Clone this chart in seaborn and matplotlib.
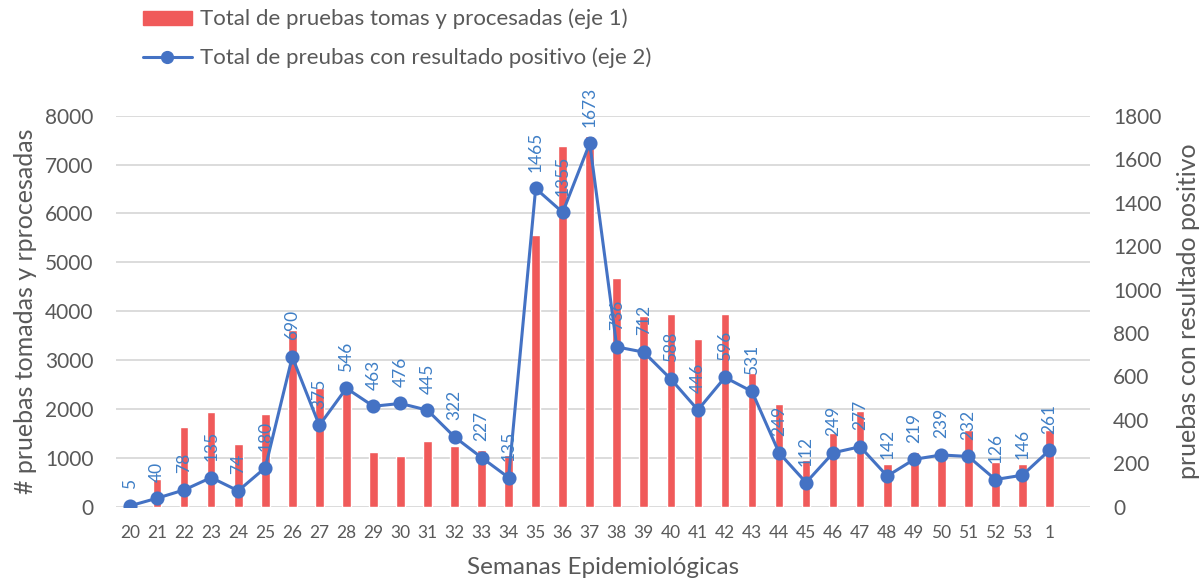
import numpy as np
import pandas as pd
import seaborn as sns
import matplotlib.pyplot as plt
from matplotlib.lines import Line2D
from matplotlib.patches import Patch

semanas = ['20', '21', '22', '23', '24', '25', '26', '27', '28', '29', '30', '31',
           '32', '33', '34', '35', '36', '37', '38', '39', '40', '41', '42', '43',
           '44', '45', '46', '47', '48', '49', '50', '51', '52', '53', '1']
procesadas = [30, 570, 1630, 1940, 1290, 1890, 3620, 2430, 2400, 1130, 1040, 1350,
              1250, 1170, 1060, 5560, 7370, 7590, 4690, 3900, 3940, 3430, 3950, 2730,
              2110, 960, 1510, 1960, 870, 1130, 1050, 1580, 920, 880, 1580]
positivos = [5, 40, 78, 135, 74, 180, 690, 375, 546, 463, 476, 445,
             322, 227, 135, 1465, 1355, 1673, 736, 712, 588, 446, 596, 531,
             249, 112, 249, 277, 142, 219, 239, 232, 126, 146, 261]

df = pd.DataFrame({'semana': semanas, 'procesadas': procesadas, 'positivos': positivos})

sns.set_style('white')
plt.rcParams['font.family'] = ['Lato', 'DejaVu Sans']

gris = '#595959'
rojo = '#F05A5A'
azul = '#4472C4'
azul_txt = '#3F7FC6'

fig = plt.figure(figsize=(12.01, 5.84), dpi=100)
ax = fig.add_axes([0.097, 0.132, 0.8106, 0.670])

sns.barplot(data=df, x='semana', y='procesadas', order=semanas, color=rojo,
            width=0.32, saturation=1, ax=ax, zorder=2)
ax.set_ylim(0, 8000)
ax.set_yticks(range(0, 8001, 1000))
ax.grid(axis='y', color='#D9D9D9', linewidth=1.3, zorder=0)
ax.set_axisbelow(True)
for s in ax.spines.values():
    s.set_visible(False)
ax.tick_params(axis='both', length=0, colors=gris)
ax.tick_params(axis='y', labelsize=15, pad=16.5)
ax.tick_params(axis='x', labelsize=12.5, pad=13)
ax.set_xlabel('Semanas Epidemiológicas', fontsize=17.5, color=gris)
ax.xaxis.set_label_coords(0.5, -0.128)
ax.set_ylabel('# pruebas tomadas y rprocesadas', fontsize=18, color=gris)
ax.yaxis.set_label_coords(-0.082, 0.5)

ax2 = ax.twinx()
sns.pointplot(data=df, x='semana', y='positivos', order=semanas, color=azul,
              markersize=8.5, linewidth=2.2, ax=ax2, zorder=3)
ax2.set_ylim(0, 1800)
ax2.set_yticks(range(0, 1801, 200))
for s in ax2.spines.values():
    s.set_visible(False)
ax2.tick_params(axis='y', length=0, colors=gris, labelsize=15, pad=16.5)
ax2.set_ylabel('pruebas con resultado positivo', fontsize=18, color=gris)
ax2.yaxis.set_label_coords(1.089, 0.5)
ax2.set_xlabel('')
ax2.grid(False)

for i, v in enumerate(positivos):
    ax2.annotate(str(v), (i, v), xytext=(0, 12), textcoords='offset points',
                 rotation=90, ha='center', va='bottom', fontsize=12.5, color=azul_txt)

ax.set_xlim(-0.5, len(semanas) + 0.5)
ax2.set_xlim(-0.5, len(semanas) + 0.5)

handles = [Patch(color=rojo),
           Line2D([], [], color=azul, linewidth=2.2, marker='o', markersize=8.5)]
labels = ['Total de pruebas tomas y procesadas (eje 1)',
          'Total de preubas con resultado positivo (eje 2)']
fig.legend(handles, labels, loc='upper left', bbox_to_anchor=(0.1024, 1.019),
           frameon=False, fontsize=16, labelcolor=gris, handlelength=2.2,
           handleheight=0.6, handletextpad=0.36, labelspacing=0.82)

fig.savefig('out.png', dpi=100)
